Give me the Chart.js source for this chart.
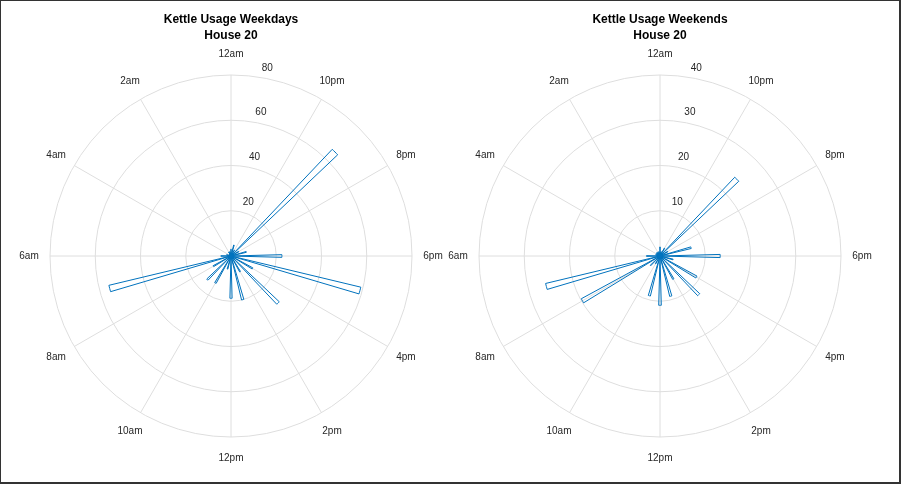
<!DOCTYPE html>
<html>
<head>
<meta charset="utf-8">
<title>Kettle Usage - House 20</title>
<script src="https://cdn.jsdelivr.net/npm/chart.js@4.4.1/dist/chart.umd.min.js"></script>
<style>
  html, body { margin: 0; padding: 0; background: #fff; }
  #frame { position: absolute; left: 0; top: 0; width: 906px; height: 484px; }
  #frame canvas { position: absolute; left: 0; top: 0; }
  #edge { position: absolute; left: 0; top: 0; width: 901px; height: 484px; box-sizing: border-box;
          border-top: 1px solid #333; border-left: 1px solid #333;
          border-right: 2px solid #333; border-bottom: 2px solid #333; pointer-events: none; }
</style>
</head>
<body>
<div id="frame">
  <canvas id="chart-weekdays" width="906" height="484"></canvas>
  <canvas id="chart-weekends" width="906" height="484"></canvas>
  <div id="edge"></div>
</div>
<script>
// kettle switch-ons per hour of day, index = hour (0 = 12am ... 23 = 11pm)
const weekdayCounts = [3, 2, 2, 1, 1, 2, 4.5, 55.5, 9, 14.8, 13.8, 6, 18.7, 20, 8, 29.4, 11, 59, 22.5, 7, 4, 65, 3, 5];
const weekendCounts = [2, 1, 1, 1, 1, 1, 3, 26, 19.8, 3, 2, 9.1, 10.9, 9.2, 5.9, 12.1, 9.3, 3, 13.3, 7.1, 2, 24, 2, 1];

const weekdayTicks = [20, 40, 60, 80];
const weekendTicks = [10, 20, 30, 40];

// theta labels every two hours, starting at 12am (top) and running anticlockwise
const hourLabels = ["12am", "2am", "4am", "6am", "8am", "10am", "12pm", "2pm", "4pm", "6pm", "8pm", "10pm"];

const BINS_PER_HOUR = 5;              // 3 degree bins
const BIN_COUNT = 24 * BINS_PER_HOUR;
const BIN_DEG = 360 / BIN_COUNT;
const BAR = "#0072bd";
const GRID = "#dedede";
const TEXT = "#262626";
const FONT = "'Liberation Sans', Arial, Helvetica, sans-serif";

// chart.js runs clockwise from the top, the hours run anticlockwise
function binForHour(h) {
  return (((24 - h) % 24) * BINS_PER_HOUR);
}

function toBins(counts) {
  const bins = new Array(BIN_COUNT).fill(0);
  counts.forEach((v, h) => { bins[binForHour(h)] = v; });
  return bins;
}

const binLabels = Array.from({ length: BIN_COUNT }, (_, i) => String(i));
const halfBin = (BIN_DEG / 2) * Math.PI / 180;

const polarDecor = {
  id: "polarDecor",
  beforeDatasetsDraw(chart, args, opts) {
    const scale = chart.scales.r;
    const ctx = chart.ctx;
    const outer = scale.getDistanceFromCenterForValue(scale.max);
    ctx.save();

    // spokes every 30 degrees
    ctx.strokeStyle = GRID;
    ctx.lineWidth = 1;
    hourLabels.forEach((label, i) => {
      const p = scale.getPointPosition(binForHour(i * 2), outer, halfBin);
      ctx.beginPath();
      ctx.moveTo(scale.xCenter, scale.yCenter);
      ctx.lineTo(p.x, p.y);
      ctx.stroke();
    });

    // hour labels round the outside
    ctx.fillStyle = TEXT;
    ctx.font = "10px " + FONT;
    ctx.textAlign = "center";
    ctx.textBaseline = "middle";
    hourLabels.forEach((label, i) => {
      const p = scale.getPointPosition(binForHour(i * 2), outer + 21, halfBin);
      ctx.fillText(label, p.x, p.y);
    });

    // radial tick labels, a little clockwise of the top spoke
    const tilt = 8 * Math.PI / 180;
    opts.ticks.forEach(v => {
      const d = scale.getDistanceFromCenterForValue(v);
      const p = scale.getPointPosition(0, d, halfBin + tilt);
      ctx.fillText(String(v), p.x + 11, p.y - 9);
    });
    ctx.restore();
  }
};

function makeChart(id, title, counts, ticks, padLeft, padRight) {
  return new Chart(document.getElementById(id), {
    type: "polarArea",
    data: {
      labels: binLabels,
      datasets: [{
        data: toBins(counts),
        backgroundColor: "rgba(255,255,255,0)",
        borderColor: BAR,
        borderWidth: c => (c.raw > 0 ? 1 : 0),
        borderJoinStyle: "miter"
      }]
    },
    options: {
      responsive: false,
      animation: false,
      events: [],
      layout: { padding: { left: padLeft, right: padRight, top: 12, bottom: 47 } },
      plugins: {
        legend: { display: false },
        tooltip: { enabled: false },
        title: {
          display: true,
          text: [title, "House 20"],
          color: "#000",
          font: { family: FONT, size: 12, weight: "bold", lineHeight: "16px" },
          padding: { top: 0, bottom: 31 }
        },
        polarDecor: { ticks }
      },
      scales: {
        r: {
          min: 0,
          max: ticks[ticks.length - 1],
          startAngle: -BIN_DEG / 2,
          ticks: { display: false, stepSize: ticks[0] },
          grid: { circular: true, color: GRID, lineWidth: 1 },
          angleLines: { display: false },
          pointLabels: { display: false }
        }
      }
    },
    plugins: [polarDecor]
  });
}

makeChart("chart-weekdays", "Kettle Usage Weekdays", weekdayCounts, weekdayTicks, 50, 494);
makeChart("chart-weekends", "Kettle Usage Weekends", weekendCounts, weekendTicks, 479, 65);
</script>
</body>
</html>
